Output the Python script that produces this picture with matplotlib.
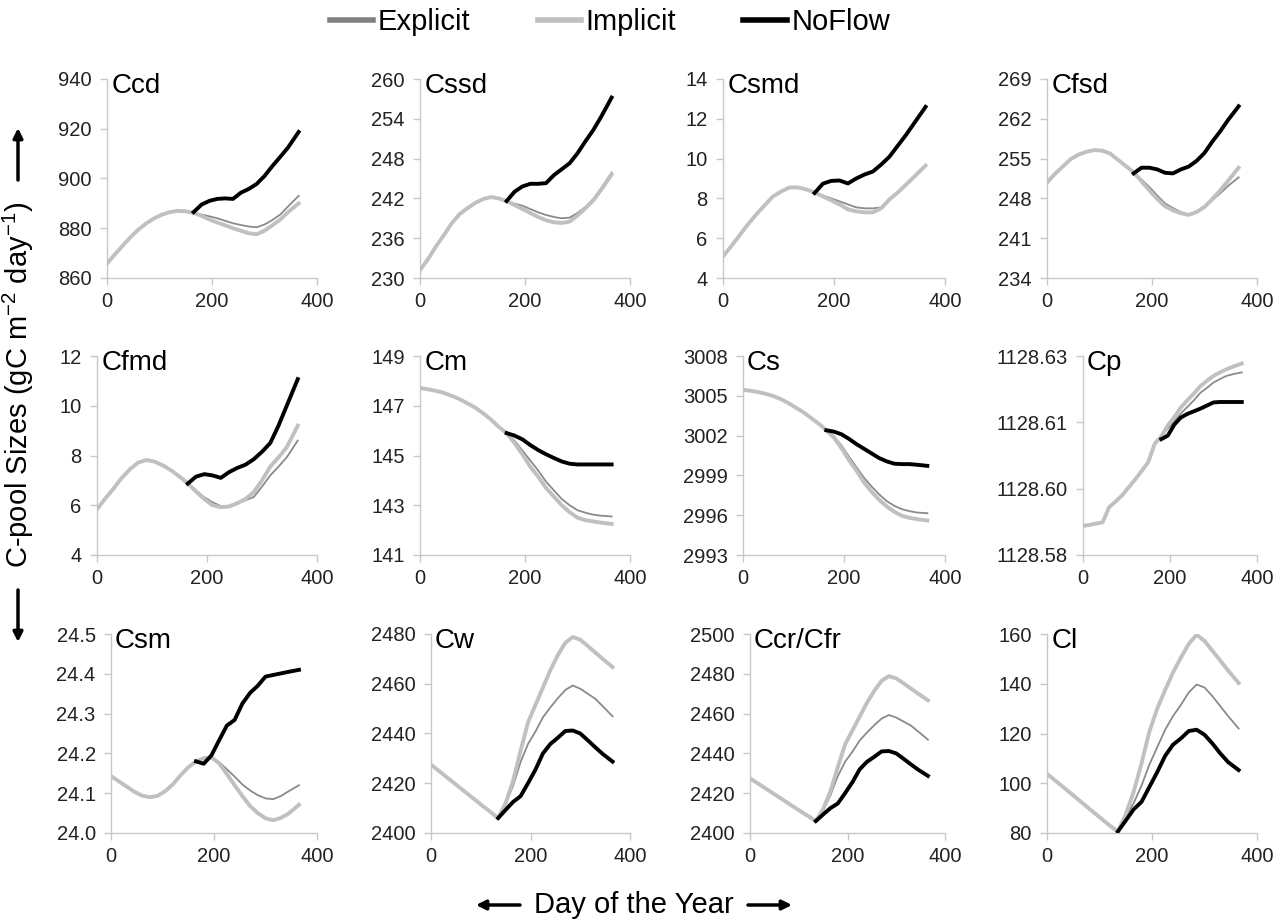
import matplotlib
matplotlib.use('Agg')
import matplotlib.pyplot as plt
import numpy as np
from matplotlib.lines import Line2D
from matplotlib.patches import FancyArrowPatch

plt.rcParams['font.family'] = ['Liberation Sans', 'DejaVu Sans']
plt.rcParams['mathtext.default'] = 'regular'

days = [1, 15, 30, 45, 60, 75, 90, 105, 120, 135, 150, 165, 180,
        195, 210, 225, 240, 255, 270, 285, 300, 315, 330, 345, 365]

ccd_explicit = [866, 869.5, 873, 876.5, 879.5, 882, 884, 885.5, 886.5, 887, 886.8, 886.2, 885.5,
                884.8, 884, 883, 882, 881.3, 880.7, 880.4, 881.5, 883.3, 885.5, 888.8, 893]
ccd_implicit = [866, 869.5, 873, 876.5, 879.5, 882, 884, 885.5, 886.5, 887, 886.8, 886.2, 885.0,
                883.5, 882.3, 881.2, 880, 879, 878, 877.6, 879, 881.2, 883.5, 886.5, 890]
ccd_noflow = [None]*11 + [886.5, 889.5, 891, 891.8, 892, 891.8, 894.3, 895.8, 897.8, 901, 905,
                          908.7, 912.5, 918.7]

cssd_explicit = [231.3, 232.8, 234.7, 236.4, 238.2, 239.6, 240.5, 241.3, 241.9, 242.2, 242.0, 241.6,
                 241.2, 240.9, 240.4, 239.9, 239.5, 239.2, 239.0, 239.1, 239.8, 240.7, 241.9, 243.5, 245.9]
cssd_implicit = [231.3, 232.8, 234.7, 236.4, 238.2, 239.6, 240.5, 241.3, 241.9, 242.2, 242.0, 241.6,
                 241.0, 240.4, 239.8, 239.2, 238.7, 238.4, 238.3, 238.5, 239.4, 240.5, 241.7, 243.3, 245.6]
cssd_noflow = [None]*11 + [241.6, 243.0, 243.8, 244.2, 244.2, 244.3, 245.5, 246.4, 247.3, 248.8,
                           250.6, 252.3, 254.3, 257.2]

csmd_explicit = [5.12, 5.6, 6.15, 6.7, 7.2, 7.65, 8.1, 8.35, 8.55, 8.55, 8.45, 8.3, 8.15,
                 8.0, 7.85, 7.7, 7.55, 7.5, 7.5, 7.55, 7.95, 8.3, 8.7, 9.1, 9.65]
csmd_implicit = [5.12, 5.6, 6.15, 6.7, 7.2, 7.65, 8.1, 8.35, 8.55, 8.55, 8.45, 8.3, 8.1,
                 7.9, 7.7, 7.45, 7.35, 7.3, 7.3, 7.5, 7.95, 8.3, 8.7, 9.1, 9.65]
csmd_noflow = [None]*11 + [8.27, 8.74, 8.88, 8.9, 8.75, 9.0, 9.2, 9.35, 9.7, 10.1, 10.65, 11.2,
                           11.8, 12.6]

cfsd_explicit = [250.9, 252.3, 253.6, 254.9, 255.7, 256.2, 256.5, 256.4, 255.9, 254.8, 253.7, 252.6,
                 251.3, 250.0, 248.5, 247.1, 246.3, 245.6, 245.1, 245.6, 246.6, 247.7, 248.9, 250.2, 251.7]
cfsd_implicit = [250.9, 252.3, 253.6, 254.9, 255.7, 256.2, 256.5, 256.4, 255.9, 254.8, 253.7, 252.6,
                 251.0, 249.4, 247.9, 246.6, 245.9, 245.4, 245.1, 245.6, 246.5, 247.9, 249.4, 251.1, 253.4]
cfsd_noflow = [None]*11 + [252.4, 253.4, 253.4, 253.1, 252.5, 252.4, 253.1, 253.6, 254.6, 256.0,
                           258.0, 259.8, 261.8, 264.2]

cfmd_explicit = [5.87, 6.27, 6.67, 7.1, 7.45, 7.72, 7.82, 7.75, 7.6, 7.4, 7.15, 6.88, 6.6,
                 6.32, 6.12, 5.97, 5.97, 6.08, 6.2, 6.33, 6.75, 7.2, 7.55, 7.93, 8.6]
cfmd_implicit = [5.87, 6.27, 6.67, 7.1, 7.45, 7.72, 7.82, 7.75, 7.6, 7.4, 7.15, 6.88, 6.55,
                 6.25, 6.0, 5.92, 5.95, 6.08, 6.25, 6.53, 7.0, 7.55, 7.92, 8.33, 9.2]
cfmd_noflow = [None]*11 + [6.87, 7.15, 7.25, 7.2, 7.1, 7.33, 7.5, 7.63, 7.85, 8.15, 8.5, 9.2,
                           10.0, 11.07]

cm_explicit = [147.71, 147.66, 147.6, 147.52, 147.4, 147.27, 147.1, 146.93, 146.7, 146.45, 146.15,
               145.9, 145.6, 145.2, 144.8, 144.4, 143.95, 143.6, 143.25, 143.0, 142.8, 142.7,
               142.62, 142.58, 142.55]
cm_implicit = [147.71, 147.66, 147.6, 147.52, 147.4, 147.27, 147.1, 146.93, 146.7, 146.45, 146.15,
               145.9, 145.5, 145.05, 144.55, 144.15, 143.7, 143.35, 143.0, 142.72, 142.5, 142.4,
               142.35, 142.3, 142.25]
cm_noflow = [None]*11 + [145.9, 145.8, 145.65, 145.42, 145.22, 145.05, 144.9, 144.76, 144.67,
                         144.64, 144.64, 144.64, 144.64, 144.64]

cs_explicit = [3005.45, 3005.38, 3005.28, 3005.15, 3004.98, 3004.75, 3004.45, 3004.1, 3003.75,
               3003.32, 3002.9, 3002.4, 3001.95, 3001.25, 3000.4, 2999.6, 2998.8, 2998.15,
               2997.55, 2997.05, 2996.7, 2996.45, 2996.3, 2996.2, 2996.15]
cs_implicit = [3005.45, 3005.38, 3005.28, 3005.15, 3004.98, 3004.75, 3004.45, 3004.1, 3003.75,
               3003.32, 3002.9, 3002.4, 3001.85, 3001.05, 3000.15, 2999.35, 2998.45, 2997.75,
               2997.15, 2996.65, 2996.25, 2995.95, 2995.8, 2995.7, 2995.6]
cs_noflow = [None]*11 + [3002.4, 3002.3, 3002.1, 3001.75, 3001.35, 3001.0, 3000.65, 3000.3,
                         3000.05, 2999.88, 2999.85, 2999.85, 2999.8, 2999.72]

cp_explicit = [1128.5866, 1128.5868, 1128.5871, 1128.5874, 1128.5908, 1128.5921, 1128.5935,
               1128.5953, 1128.5971, 1128.5990, 1128.6010, 1128.6052, 1128.6068, 1128.6086,
               1128.6102, 1128.6120, 1128.6135, 1128.6150, 1128.6167, 1128.6178, 1128.6190,
               1128.6198, 1128.6205, 1128.6209, 1128.6213]
cp_implicit = [1128.5866, 1128.5868, 1128.5871, 1128.5874, 1128.5908, 1128.5921, 1128.5935,
               1128.5953, 1128.5971, 1128.5990, 1128.6010, 1128.6052, 1128.6068, 1128.6093,
               1128.6112, 1128.6134, 1128.6150, 1128.6165, 1128.6182, 1128.6194, 1128.6205,
               1128.6213, 1128.6220, 1128.6226, 1128.6233]
cp_noflow = [None]*12 + [1128.6062, 1128.6070, 1128.6095, 1128.6111, 1128.6119, 1128.6125,
                         1128.6131, 1128.6138, 1128.6145, 1128.6146, 1128.6146, 1128.6146, 1128.6146]

csm_explicit = [24.142, 24.13, 24.117, 24.104, 24.094, 24.09, 24.093, 24.105, 24.122, 24.145,
                24.165, 24.18, 24.188, 24.19, 24.178, 24.16, 24.142, 24.122, 24.107, 24.095,
                24.087, 24.085, 24.093, 24.105, 24.12]
csm_implicit = [24.142, 24.13, 24.117, 24.104, 24.094, 24.09, 24.093, 24.105, 24.122, 24.145,
                24.165, 24.18, 24.188, 24.19, 24.175, 24.148, 24.12, 24.093, 24.068, 24.05,
                24.037, 24.032, 24.038, 24.049, 24.071]
csm_noflow = [None]*11 + [24.18, 24.174, 24.195, 24.233, 24.27, 24.284, 24.325, 24.352, 24.37,
                          24.393, 24.397, 24.401, 24.405, 24.41]

cw_explicit = [2427.3, 2425.1, 2422.7, 2420.3, 2417.9, 2415.5, 2413.1, 2410.7, 2408.4, 2406,
               2411.5, 2419, 2428.5, 2435.8, 2440.8, 2446.5, 2450.5, 2454.2, 2457.5, 2459.3,
               2458, 2456, 2454, 2451, 2446.9]
cw_implicit = [2427.3, 2425.1, 2422.7, 2420.3, 2417.9, 2415.5, 2413.1, 2410.7, 2408.4, 2406,
               2412, 2421, 2433, 2444.5, 2451.5, 2458.5, 2465.5, 2471.5, 2476.5, 2478.8,
               2477.7, 2475.2, 2472.6, 2470, 2466.7]
cw_noflow = [None]*9 + [2406, 2409.3, 2412.5, 2414.8, 2420, 2425.5, 2432, 2435.8, 2438.3, 2441,
                        2441.2, 2440, 2437.3, 2434.5, 2431.8, 2428.7]

ccr_explicit = [2427.3, 2425.1, 2422.7, 2420.3, 2417.9, 2415.5, 2413.1, 2410.7, 2408.4, 2406,
                2411.5, 2419, 2428.5, 2435.8, 2440.8, 2446.5, 2450.5, 2454.2, 2457.5, 2459.3,
                2458, 2456, 2454, 2451, 2446.9]
ccr_implicit = [2427.3, 2425.1, 2422.7, 2420.3, 2417.9, 2415.5, 2413.1, 2410.7, 2408.4, 2406,
                2412, 2421, 2433, 2444.5, 2451.5, 2458.5, 2465.5, 2471.5, 2476.5, 2478.8,
                2477.7, 2475.2, 2472.6, 2470, 2466.7]
ccr_noflow = [None]*9 + [2406, 2409.3, 2412.5, 2414.8, 2420, 2425.5, 2432, 2435.8, 2438.3, 2441,
                         2441.2, 2440, 2437.3, 2434.5, 2431.8, 2428.7]

cl_explicit = [103.6, 101.2, 98.6, 96.0, 93.4, 90.7, 88.1, 85.5, 82.9, 80.6, 86.5, 92, 99,
               107.5, 114.5, 121.5, 127, 131.5, 136.5, 139.7, 138.5, 135, 131, 127, 122]
cl_implicit = [103.6, 101.2, 98.6, 96.0, 93.4, 90.7, 88.1, 85.5, 82.9, 80.6, 87.5, 96.5, 108,
               120.8, 130, 137.5, 144.5, 150.5, 156, 159.7, 157.2, 153.3, 149.3, 145.3, 140.3]
cl_noflow = [None]*9 + [80.6, 85, 89.5, 92.5, 98.5, 104.5, 111, 115.5, 118, 121, 121.5, 119.5,
                        116, 112, 108.5, 105.3]

names = ['Ccd', 'Cssd', 'Csmd', 'Cfsd', 'Cfmd', 'Cm', 'Cs', 'Cp', 'Csm', 'Cw', 'Ccr/Cfr', 'Cl']
yticks = [
    [860, 880, 900, 920, 940],
    [230, 236, 242, 248, 254, 260],
    [4, 6, 8, 10, 12, 14],
    [234, 241, 248, 255, 262, 269],
    [4, 6, 8, 10, 12],
    [141, 143, 145, 147, 149],
    [2993, 2996, 2999, 3002, 3005, 3008],
    [1128.58, 1128.595, 1128.61, 1128.625],
    [24.0, 24.1, 24.2, 24.3, 24.4, 24.5],
    [2400, 2420, 2440, 2460, 2480],
    [2400, 2420, 2440, 2460, 2480, 2500],
    [80, 100, 120, 140, 160],
]
cp_ticklabels = ['1128.58', '1128.60', '1128.61', '1128.63']

series = [
    (ccd_explicit, ccd_implicit, ccd_noflow),
    (cssd_explicit, cssd_implicit, cssd_noflow),
    (csmd_explicit, csmd_implicit, csmd_noflow),
    (cfsd_explicit, cfsd_implicit, cfsd_noflow),
    (cfmd_explicit, cfmd_implicit, cfmd_noflow),
    (cm_explicit, cm_implicit, cm_noflow),
    (cs_explicit, cs_implicit, cs_noflow),
    (cp_explicit, cp_implicit, cp_noflow),
    (csm_explicit, csm_implicit, csm_noflow),
    (cw_explicit, cw_implicit, cw_noflow),
    (ccr_explicit, ccr_implicit, ccr_noflow),
    (cl_explicit, cl_implicit, cl_noflow),
]

W, H = 1283, 923
fig = plt.figure(figsize=(W/100, H/100), dpi=100)

# axes boxes in pixels (left edge depends on tick label width, like the original)
lefts = [107, 420, 723, 1047, 97, 420, 743, 1083, 111, 431, 750, 1047]
rights = [317, 630, 945, 1257]
bottoms = [278, 555, 833]
ax_h = 199

c_exp, c_imp, c_nf = '#8a8a8a', '#c0c0c0', 'black'
spine_c = '#c8c8c8'

for i, name in enumerate(names):
    row, col = divmod(i, 4)
    l = lefts[i]
    r = rights[col]
    b = bottoms[row]
    ax = fig.add_axes([l/W, 1 - b/H, (r - l)/W, ax_h/H])
    exp, imp, nf = series[i]
    ax.plot(days, exp, color=c_exp, lw=1.3, zorder=2)
    ax.plot(days, imp, color=c_imp, lw=2.8, zorder=3)
    ax.plot(days, np.array(nf, dtype=float), color=c_nf, lw=2.8, zorder=4)

    ax.set_xlim(0, 400)
    ax.set_xticks([0, 200, 400])
    yt = yticks[i]
    ax.set_ylim(yt[0], yt[-1])
    ax.set_yticks(yt)
    if name == 'Cp':
        ax.set_yticklabels(cp_ticklabels)
    elif name == 'Csm':
        ax.set_yticklabels(['%.1f' % v for v in yt])
    else:
        ax.set_yticklabels(['%d' % v for v in yt])

    for s in ['top', 'right']:
        ax.spines[s].set_visible(False)
    for s in ['left', 'bottom']:
        ax.spines[s].set_color(spine_c)
        ax.spines[s].set_linewidth(1.0)
    ax.tick_params(axis='both', colors=spine_c, labelcolor='#222222', labelsize=14.5,
                   length=5, width=1, direction='out')
    ax.tick_params(axis='y', pad=6)
    ax.tick_params(axis='x', pad=5)
    ax.text(0.02, 1.03, name, transform=ax.transAxes, ha='left', va='top',
            fontsize=20, color='black')

handles = [Line2D([], [], color='#808080', lw=4),
           Line2D([], [], color=c_imp, lw=4),
           Line2D([], [], color='black', lw=4)]
fig.legend(handles, ['Explicit', 'Implicit', 'NoFlow'], loc='center',
           bbox_to_anchor=(610/W, 1 - 22/H), ncol=3, frameon=False, fontsize=21,
           handlelength=1.5, handletextpad=0.15, columnspacing=2.3)

# axis titles with arrows
arrow = dict(arrowstyle='-|>', lw=2.5, color='black', mutation_scale=14,
             shrinkA=0, shrinkB=0)
fig.text(18/W, 1 - 385/H, 'C-pool Sizes (gC m$^{-2}$ day$^{-1}$)', rotation=90,
         ha='center', va='center', fontsize=21)
fig.add_artist(FancyArrowPatch((18/W, 1 - 180/H), (18/W, 1 - 128/H),
                               transform=fig.transFigure, **arrow))
fig.add_artist(FancyArrowPatch((18/W, 1 - 590/H), (18/W, 1 - 642/H),
                               transform=fig.transFigure, **arrow))

fig.text(634/W, 18/H, 'Day of the Year', ha='center', va='center', fontsize=21)
fig.add_artist(FancyArrowPatch((520/W, 18/H), (476/W, 18/H),
                               transform=fig.transFigure, **arrow))
fig.add_artist(FancyArrowPatch((748/W, 18/H), (792/W, 18/H),
                               transform=fig.transFigure, **arrow))

fig.savefig('out.png', dpi=100)
